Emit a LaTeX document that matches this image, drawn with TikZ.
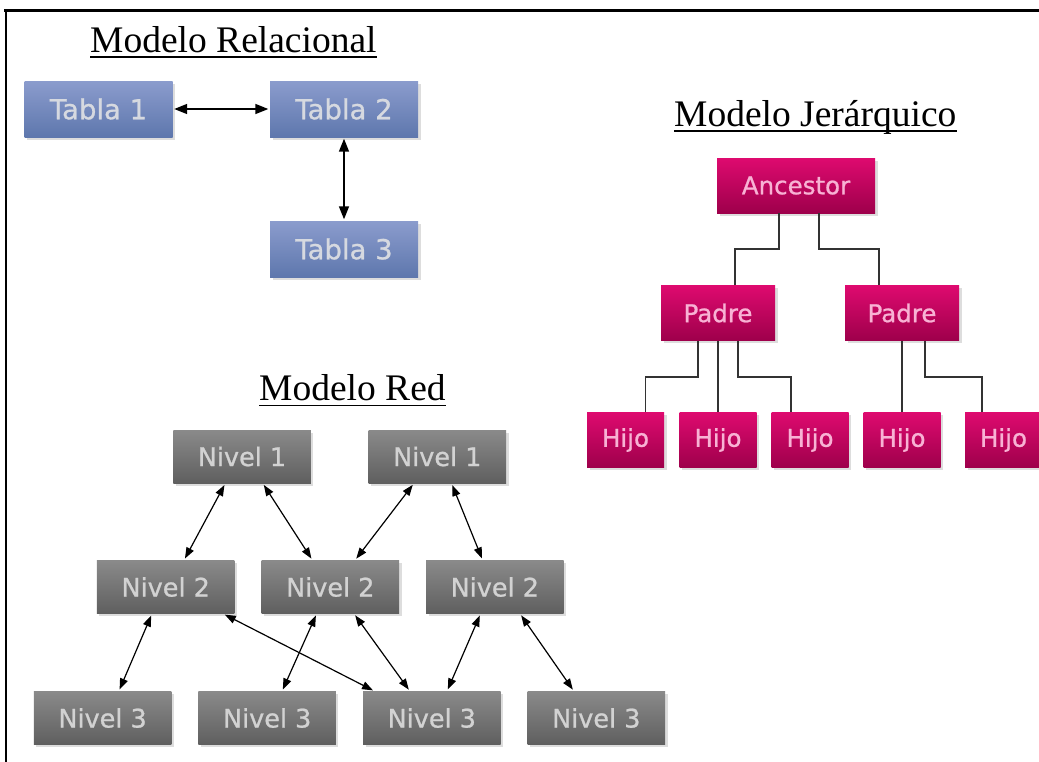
\documentclass[tikz,border=0pt]{standalone}
\usepackage{fontspec}
\setmainfont{Liberation Serif}
\newfontfamily\boxfont[FakeBold=0.9]{DejaVu Sans}
\usetikzlibrary{arrows.meta,shadows}

\definecolor{bluetop}{HTML}{8B9CCD}
\definecolor{bluebot}{HTML}{5E77AD}
\definecolor{bluetxt}{HTML}{D6D9E0}
\definecolor{magtop}{HTML}{DE0A6F}
\definecolor{magbot}{HTML}{9E004B}
\definecolor{magtxt}{HTML}{F8B2D4}
\definecolor{graytop}{HTML}{8A8A8A}
\definecolor{graybot}{HTML}{5F5F5F}
\definecolor{graytxt}{HTML}{D2D2D2}
\definecolor{wire}{HTML}{333333}

\tikzset{
  x=1pt, y=1pt,
  box/.style={rectangle, inner sep=0pt, font=\boxfont,
    drop shadow={shadow xshift=2.5pt, shadow yshift=-2.5pt, fill=black!22, opacity=0.6}},
  tabla/.style={box, minimum width=148pt, minimum height=56pt,
    top color=bluetop, bottom color=bluebot, text=bluetxt, font=\boxfont\fontsize{27.5}{30}\selectfont},
  jbox/.style={box, minimum height=55pt,
    top color=magtop, bottom color=magbot, text=magtxt, font=\boxfont\fontsize{24.5}{28}\selectfont},
  nivel/.style={box, minimum width=137.5pt, minimum height=53pt,
    top color=graytop, bottom color=graybot, text=graytxt, font=\boxfont\fontsize{25.5}{28}\selectfont},
  titulo/.style={anchor=base west, inner sep=0pt, font=\fontsize{37.5}{40}\selectfont},
  subrayado/.style={line width=1.8pt},
  bigarrow/.style={line width=1.5pt, {Triangle[length=13pt,width=10pt]}-{Triangle[length=13pt,width=10pt]},
    shorten <=1.5pt, shorten >=1.5pt},
  netarrow/.style={line width=1.2pt, {Triangle[length=11pt,width=8pt]}-{Triangle[length=11pt,width=8pt]},
    shorten <=2pt, shorten >=2pt},
  link/.style={wire, line width=1.7pt},
}

\begin{document}
\begin{tikzpicture}
\useasboundingbox (0,0) rectangle (1039,-761);
\begin{scope}
\clip (0,0) rectangle (1039,-761);

% frame
\draw[line width=3pt] (4,-10) -- (1045,-10);
\draw[line width=2.6pt] (6,-10) -- (6,-770);

% ---------------- Modelo Relacional ----------------
\node[titulo] (trel) at (90,-52) {Modelo Relacional};
\draw[subrayado] ([yshift=-5pt]trel.base west) -- ([yshift=-5pt]trel.base east);

\node[tabla] (t1) at (98.5,-109) {Tabla 1};
\node[tabla] (t2) at (344,-109) {Tabla 2};
\node[tabla] (t3) at (344,-249) {Tabla 3};
\draw[bigarrow] (t1.east) -- (t2.west);
\draw[bigarrow] (t2.south) -- (t3.north);

% ---------------- Modelo Jerárquico ----------------
\node[titulo] (tjer) at (674,-126) {Modelo Jerárquico};
\draw[subrayado] ([yshift=-5pt]tjer.base west) -- ([yshift=-5pt]tjer.base east);

\node[jbox, minimum width=158pt] (anc) at (796,-185.5) {Ancestor};
\node[jbox, minimum width=114pt] (pL) at (718,-313) {Padre};
\node[jbox, minimum width=114pt] (pR) at (902,-313) {Padre};
\node[jbox, minimum width=77pt] (h1) at (625.5,-440) {Hijo};
\node[jbox, minimum width=77pt] (h2) at (718,-440) {Hijo};
\node[jbox, minimum width=77pt] (h3) at (810,-440) {Hijo};
\node[jbox, minimum width=77pt] (h4) at (902,-440) {Hijo};
\node[jbox, minimum width=77pt] (h5) at (1003.5,-440) {Hijo};

\draw[link] ([xshift=-17pt]anc.south) -- ++(0,-36) -| ([xshift=17pt]pL.north);
\draw[link] ([xshift=23pt]anc.south) -- ++(0,-36) -| ([xshift=-23pt]pR.north);
\draw[link] ([xshift=-20pt]pL.south) -- ++(0,-36) -| ([xshift=20pt]h1.north);
\draw[link] (pL.south) -- (h2.north);
\draw[link] ([xshift=20pt]pL.south) -- ++(0,-36) -| ([xshift=-19pt]h3.north);
\draw[link] (pR.south) -- (h4.north);
\draw[link] ([xshift=23pt]pR.south) -- ++(0,-36) -| ([xshift=-21.5pt]h5.north);

% ---------------- Modelo Red ----------------
\node[titulo] (tred) at (259,-400) {Modelo Red};
\draw[subrayado] ([yshift=-5.5pt]tred.base west) -- ([yshift=-5.5pt]tred.base east);

\node[nivel] (n1a) at (242,-456.5) {Nivel 1};
\node[nivel] (n1b) at (437.3,-456.5) {Nivel 1};
\node[nivel] (n2a) at (165.7,-587) {Nivel 2};
\node[nivel] (n2b) at (330.3,-587) {Nivel 2};
\node[nivel] (n2c) at (494.8,-587) {Nivel 2};
\node[nivel] (n3a) at (102.6,-718) {Nivel 3};
\node[nivel] (n3b) at (267.2,-718) {Nivel 3};
\node[nivel] (n3c) at (431.8,-718) {Nivel 3};
\node[nivel] (n3d) at (596.3,-718) {Nivel 3};

\draw[netarrow] ([xshift=-16.6pt]n1a.south) -- ([xshift=18.3pt]n2a.north);
\draw[netarrow] ([xshift=20.7pt]n1a.south) -- ([xshift=-17.8pt]n2b.north);
\draw[netarrow] ([xshift=-23.3pt]n1b.south) -- ([xshift=24.7pt]n2b.north);
\draw[netarrow] ([xshift=14.2pt]n1b.south) -- ([xshift=-12.1pt]n2c.north);
\draw[netarrow] ([xshift=-13.7pt]n2a.south) -- ([xshift=16.2pt]n3a.north);
\draw[netarrow] ([xshift=57.3pt]n2a.south) -- ([xshift=-57pt]n3c.north);
\draw[netarrow] ([xshift=-13.6pt]n2b.south) -- ([xshift=14.8pt]n3b.north);
\draw[netarrow] ([xshift=23.7pt]n2b.south) -- ([xshift=-21.8pt]n3c.north);
\draw[netarrow] ([xshift=-14.2pt]n2c.south) -- ([xshift=15.2pt]n3c.north);
\draw[netarrow] ([xshift=25.2pt]n2c.south) -- ([xshift=-22.3pt]n3d.north);
\end{scope}
\end{tikzpicture}
\end{document}
